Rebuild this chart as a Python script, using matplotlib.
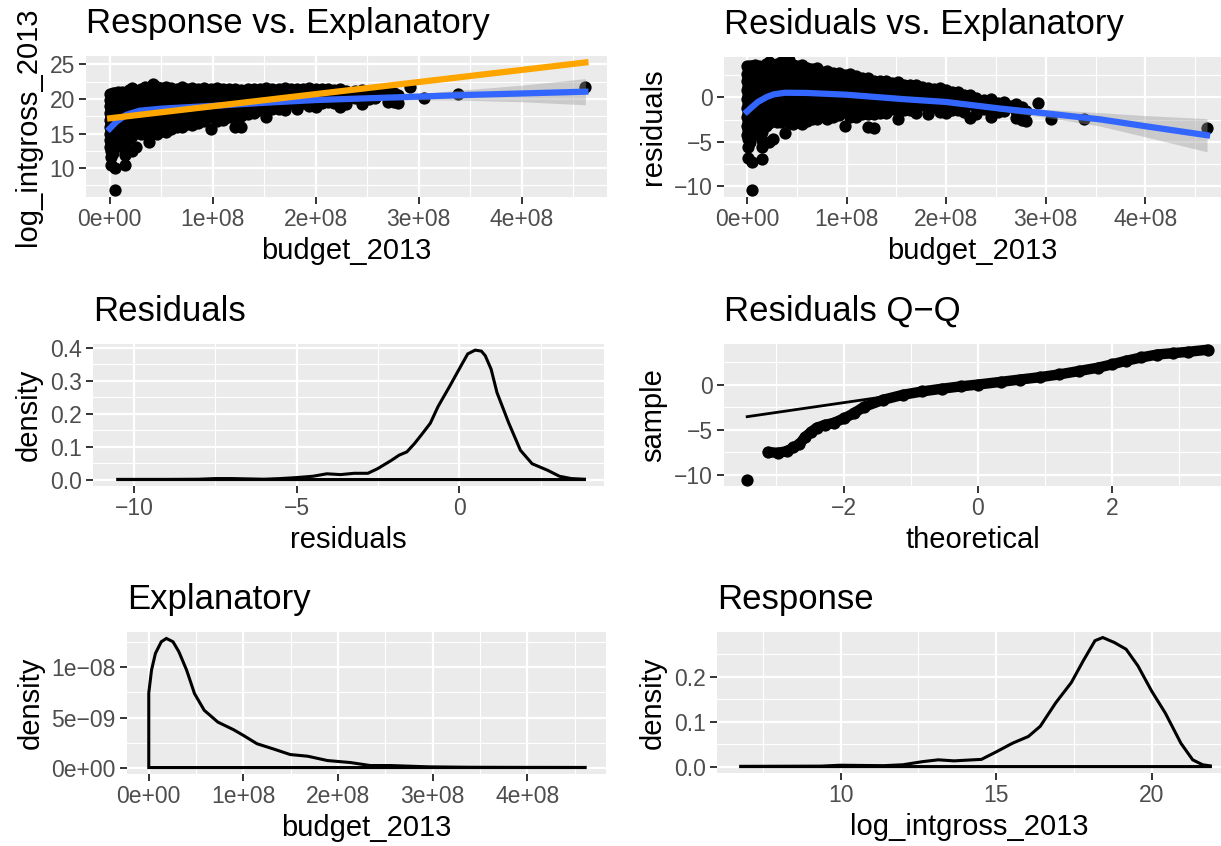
import numpy as np
import matplotlib.pyplot as plt

plt.rcParams['font.family'] = ['Liberation Sans', 'DejaVu Sans']

MINUS = '\u2212'

# scatter data: budget in millions, one list of log gross values per budget column
budget_cols = [0.5, 1.5, 3, 5, 8, 12, 15, 19, 22, 26, 30, 34, 38, 42, 46, 50, 55, 60, 65, 70,
               75, 80, 86, 92, 98, 104, 110, 116, 122, 128, 134, 140, 146, 152, 158, 164, 170,
               176, 182, 188, 194, 200, 206, 212, 218, 224, 230, 238, 245, 252, 258, 264, 270,
               276, 280, 292, 305, 338, 462]
gross_cols = [
    [20.7, 19.8, 19.0, 18.0, 17.0, 16.0, 15.0, 14.0, 13.0],
    [20.5, 19.5, 18.5, 17.5, 16.5, 15.5, 14.5, 13.5, 12.5, 11.6, 10.4],
    [20.8, 20.0, 19.2, 18.2, 17.2, 16.2, 15.2, 14.2, 13.1, 12.2],
    [20.8, 19.8, 18.8, 17.8, 16.8, 15.8, 14.8, 13.8, 10.0, 6.8],
    [21.0, 20.0, 19.0, 18.0, 17.0, 16.0, 15.0, 14.0, 13.2],
    [21.0, 20.1, 19.3, 18.3, 17.3, 16.3, 15.3, 14.3],
    [20.8, 19.8, 18.8, 17.8, 16.8, 15.8, 14.8, 13.6, 12.7, 11.9, 10.5],
    [21.3, 20.3, 19.3, 18.3, 17.3, 16.3, 15.3, 14.3],
    [21.6, 20.6, 19.6, 18.6, 17.6, 16.6, 15.6, 14.7, 12.5],
    [21.2, 20.2, 19.2, 18.2, 17.2, 16.2, 15.2, 13.0],
    [21.5, 20.5, 19.5, 18.5, 17.5, 16.5, 15.5, 14.9],
    [21.8, 20.8, 19.8, 18.8, 17.8, 16.8, 15.8, 15.0],
    [21.6, 20.6, 19.6, 18.6, 17.6, 16.6, 15.6, 13.8],
    [22.2, 21.2, 20.2, 19.2, 18.2, 17.2, 16.2, 15.1],
    [21.7, 20.7, 19.7, 18.7, 17.7, 16.7, 15.7, 15.0],
    [21.6, 20.6, 19.6, 18.6, 17.6, 16.6, 15.4],
    [21.8, 20.8, 19.8, 18.8, 17.8, 16.8, 15.8, 15.2],
    [21.6, 20.6, 19.6, 18.6, 17.6, 16.6, 15.6],
    [21.5, 20.5, 19.5, 18.5, 17.5, 16.5, 15.9],
    [21.7, 20.7, 19.7, 18.7, 17.7, 16.7, 16.0],
    [21.4, 20.4, 19.4, 18.4, 17.4, 16.4],
    [21.6, 20.6, 19.6, 18.6, 17.6, 16.6, 16.2],
    [21.5, 20.5, 19.5, 18.5, 17.5, 16.5],
    [21.6, 20.6, 19.6, 18.6, 17.6, 16.8],
    [21.4, 20.4, 19.4, 18.4, 17.4, 15.7],
    [21.6, 20.6, 19.6, 18.6, 17.6, 16.8],
    [21.5, 20.5, 19.5, 18.5, 17.5, 16.9],
    [21.4, 20.4, 19.4, 18.4, 17.4],
    [21.5, 20.5, 19.5, 18.5, 17.5, 16.0],
    [21.3, 20.3, 19.3, 18.3, 17.6, 16.0],
    [21.4, 20.4, 19.4, 18.4, 17.8],
    [21.5, 20.5, 19.5, 18.5, 17.9],
    [21.4, 20.4, 19.4, 18.4],
    [21.6, 20.6, 19.6, 18.6, 17.4],
    [21.4, 20.4, 19.4, 18.5],
    [21.5, 20.5, 19.5, 18.6],
    [21.6, 20.6, 19.6, 18.4],
    [21.4, 20.4, 19.4],
    [21.5, 20.5, 19.5, 18.5],
    [21.4, 20.4, 19.4],
    [21.6, 20.6, 19.6, 19.0],
    [21.5, 20.5, 19.5, 18.9],
    [21.4, 20.4, 19.4],
    [21.5, 20.5, 19.5],
    [21.3, 20.3, 19.4],
    [21.4, 20.4, 18.8],
    [21.2, 20.2, 19.3],
    [21.1, 20.1],
    [21.3, 20.3, 19.3],
    [21.0, 20.0],
    [21.2, 20.2],
    [20.9],
    [21.2, 20.4, 19.6],
    [20.9, 19.5],
    [20.6, 19.4],
    [21.7],
    [20.1],
    [20.7],
    [21.8],
]

# linear fit
lm_intercept = 17.2
lm_slope = 1.752e-8

# loess smooths (budget in millions)
smooth1_budget = [0, 6.5, 16, 29, 50, 100, 150, 200, 250, 300, 350, 400, 462]
smooth1_fit = [15.7, 16.7, 17.7, 18.3, 18.6, 19.0, 19.45, 19.85, 20.1, 20.35, 20.6, 20.8, 21.06]
smooth1_se = [0.3, 0.2, 0.12, 0.08, 0.07, 0.07, 0.08, 0.12, 0.22, 0.45, 0.8, 1.2, 1.9]

smooth2_budget = [0, 5, 11, 20, 27, 38, 60, 100, 156, 200, 255, 300, 354, 400, 462]
smooth2_fit = [-1.6, -1.1, -0.52, 0.05, 0.34, 0.52, 0.5, 0.3, -0.19, -0.52, -1.27, -1.8, -2.47, -3.25, -4.27]
smooth2_se = [0.4, 0.3, 0.2, 0.15, 0.12, 0.1, 0.1, 0.1, 0.12, 0.15, 0.3, 0.45, 0.75, 1.2, 1.87]

# residual density
resid_density_x = [-10.5, -9.0, -8.0, -7.5, -7.0, -6.5, -6.0, -5.5, -5.0, -4.5, -4.07, -3.65, -3.23,
                   -2.81, -2.51, -2.09, -1.85, -1.61, -1.37, -1.13, -0.89, -0.65, -0.29, -0.1, 0.08,
                   0.26, 0.49, 0.68, 0.8, 0.98, 1.16, 1.52, 1.88, 2.24, 2.72, 3.08, 3.44, 3.85]
resid_density_y = [0.0005, 0.0005, 0.001, 0.003, 0.003, 0.002, 0.001, 0.003, 0.006, 0.01, 0.0175,
                   0.015, 0.019, 0.019, 0.033, 0.058, 0.074, 0.084, 0.11, 0.14, 0.171, 0.222, 0.284,
                   0.318, 0.35, 0.3815, 0.393, 0.39, 0.376, 0.335, 0.264, 0.172, 0.089, 0.048, 0.028,
                   0.01, 0.003, 0.001]

# residual Q-Q
qq_theoretical = [-3.435, -3.127, -2.98, -2.836, -2.75, -2.66, -2.574, -2.486, -2.4, -2.28, -2.14,
                  -1.99, -1.846, -1.7, -1.41, -1.118, -0.827, -0.536, -0.245, 0.0, 0.338, 0.629,
                  0.92, 1.21, 1.5, 1.79, 2.0, 2.2, 2.43, 2.67, 2.9, 3.13, 3.42]
qq_sample = [-10.55, -7.45, -7.55, -7.35, -6.95, -6.6, -5.8, -5.25, -4.75, -4.45, -4.2, -3.7,
             -3.15, -2.45, -1.65, -1.1, -0.72, -0.42, -0.15, 0.04, 0.34, 0.6, 0.86, 1.17, 1.54,
             1.92, 2.29, 2.67, 3.05, 3.38, 3.53, 3.68, 3.91]
qq_line_intercept = 0.2
qq_line_slope = 1.085

# explanatory density (budget in millions, density in 1e-8)
budget_density_x = [0, 2.9, 7, 13.2, 18.6, 25.6, 31.8, 40, 48.3, 58.6, 73, 89.6, 100, 114.3, 130.9,
                    149.4, 168, 188.7, 213, 234, 255, 296, 337, 379, 461]
budget_density_y = [0.745, 0.973, 1.14, 1.257, 1.29, 1.257, 1.157, 0.973, 0.739, 0.572, 0.454,
                    0.378, 0.321, 0.238, 0.188, 0.13, 0.113, 0.07, 0.05, 0.02, 0.02, 0.007, 0.003,
                    0.002, 0.001]

# response density
gross_density_x = [6.79, 9.37, 10.0, 11.38, 12.0, 12.64, 13.14, 13.65, 14.53, 15.03, 15.53, 16.04,
                   16.42, 16.92, 17.42, 17.8, 18.18, 18.43, 18.8, 19.18, 19.56, 20.0, 20.44, 20.94,
                   21.32, 21.64, 21.89]
gross_density_y = [0.0005, 0.001, 0.003, 0.002, 0.004, 0.011, 0.015, 0.0127, 0.016, 0.0336, 0.052,
                   0.067, 0.0896, 0.142, 0.187, 0.235, 0.28, 0.287, 0.276, 0.261, 0.224, 0.168,
                   0.119, 0.052, 0.015, 0.004, 0.0015]

budget_ticks = [0, 1e8, 2e8, 3e8, 4e8]
budget_tick_labels = ['0e+00', '1e+08', '2e+08', '3e+08', '4e+08']

budget_2013 = np.concatenate([[b] * len(g) for b, g in zip(budget_cols, gross_cols)]) * 1e6
log_intgross_2013 = np.concatenate(gross_cols)
residuals = log_intgross_2013 - (lm_intercept + lm_slope * budget_2013)

W, H = 1221, 846
fig = plt.figure(figsize=(W / 100, H / 100), dpi=100)


def add_panel(l, r, t, b):
    return fig.add_axes([l / W, 1 - b / H, (r - l) / W, (b - t) / H])


def style_panel(ax, xlim, ylim, xmajor, xminor, ymajor, yminor, title, xlab, ylab,
                xlabels=None, ylabels=None):
    ax.set_facecolor('#EBEBEB')
    for s in ax.spines.values():
        s.set_visible(False)
    ax.set_xlim(xlim)
    ax.set_ylim(ylim)
    ax.set_xticks(xmajor)
    ax.set_xticks(xminor, minor=True)
    ax.set_yticks(ymajor)
    ax.set_yticks(yminor, minor=True)
    if xlabels is None:
        xlabels = [f'{v:g}'.replace('-', MINUS) for v in xmajor]
    if ylabels is None:
        ylabels = [f'{v:g}'.replace('-', MINUS) for v in ymajor]
    ax.set_xticklabels(xlabels)
    ax.set_yticklabels(ylabels)
    ax.grid(which='major', color='white', lw=1.6)
    ax.grid(which='minor', color='white', lw=0.8)
    ax.set_axisbelow(True)
    ax.tick_params(which='major', length=5, width=1.4, color='#333333',
                   labelcolor='#4D4D4D', labelsize=16.5, pad=3)
    ax.tick_params(which='minor', length=0)
    ax.set_title(title, loc='left', fontsize=25, pad=16.5)
    ax.set_xlabel(xlab, fontsize=21, labelpad=4)
    ax.set_ylabel(ylab, fontsize=21, labelpad=5)


def density_outline(ax, x, y):
    xs = np.concatenate([[x[0]], x, [x[-1]]])
    ys = np.concatenate([[0], y, [0]])
    ax.fill(xs, ys, facecolor='none', edgecolor='black', lw=2.2, closed=True)


budget_minor = [0.5e8, 1.5e8, 2.5e8, 3.5e8, 4.5e8]
dot = 78

# Response vs. Explanatory
ax1 = add_panel(86, 607, 56, 197)
style_panel(ax1, (-0.23e8, 4.83e8), (5.8, 26.23), budget_ticks, budget_minor,
            [10, 15, 20, 25], [7.5, 12.5, 17.5, 22.5],
            'Response vs. Explanatory', 'budget_2013', 'log_intgross_2013',
            xlabels=budget_tick_labels)
ax1.scatter(budget_2013, log_intgross_2013, s=dot, color='black', lw=0, zorder=2)
s1x = np.array(smooth1_budget) * 1e6
s1y = np.array(smooth1_fit)
s1e = np.array(smooth1_se)
ax1.fill_between(s1x, s1y - s1e, s1y + s1e, color='#999999', alpha=0.4, lw=0, zorder=3)
ax1.plot(s1x, s1y, color='#3366FF', lw=4.5, zorder=4)
lx = np.array([budget_2013.min(), budget_2013.max()])
ax1.plot(lx, lm_intercept + lm_slope * lx, color='orange', lw=4.5, zorder=5)

# Residuals vs. Explanatory
ax2 = add_panel(724, 1221, 57, 197)
style_panel(ax2, (-0.23e8, 4.76e8), (-11.23, 4.55), budget_ticks, budget_minor,
            [-10, -5, 0], [-7.5, -2.5, 2.5],
            'Residuals vs. Explanatory', 'budget_2013', 'residuals',
            xlabels=budget_tick_labels)
ax2.scatter(budget_2013, residuals, s=dot, color='black', lw=0, zorder=2)
s2x = np.array(smooth2_budget) * 1e6
s2y = np.array(smooth2_fit)
s2e = np.array(smooth2_se)
ax2.fill_between(s2x, s2y - s2e, s2y + s2e, color='#999999', alpha=0.4, lw=0, zorder=3)
ax2.plot(s2x, s2y, color='#3366FF', lw=4.5, zorder=4)

# Residuals density
ax3 = add_panel(93, 604, 344, 486)
style_panel(ax3, (-11.26, 4.45), (-0.0196, 0.4116), [-10, -5, 0], [-7.5, -2.5, 2.5],
            [0, 0.1, 0.2, 0.3, 0.4], [0.05, 0.15, 0.25, 0.35],
            'Residuals', 'residuals', 'density',
            ylabels=['0.0', '0.1', '0.2', '0.3', '0.4'])
density_outline(ax3, resid_density_x, resid_density_y)

# Residuals Q-Q
ax4 = add_panel(724, 1221, 344, 486)
style_panel(ax4, (-3.78, 3.62), (-11.23, 4.55), [-2, 0, 2], [-3, -1, 1, 3],
            [-10, -5, 0], [-7.5, -2.5, 2.5],
            'Residuals Q\u2212Q', 'theoretical', 'sample')
qt = np.array(qq_theoretical)
qs = np.array(qq_sample)
ax4.plot(qt[1:], qs[1:], color='black', lw=7.5, solid_capstyle='round',
         solid_joinstyle='round', zorder=2)
ax4.scatter(qt, qs, s=dot, color='black', lw=0, zorder=3)
ax4.plot([qt.min(), qt.max()], qq_line_intercept + qq_line_slope * np.array([qt.min(), qt.max()]),
         color='black', lw=2, zorder=4)

# Explanatory density
ax5 = add_panel(127, 606, 632, 774)
style_panel(ax5, (-0.23e8, 4.83e8), (-0.0645e-8, 1.3545e-8), budget_ticks, budget_minor,
            [0, 0.5e-8, 1e-8], [0.25e-8, 0.75e-8, 1.25e-8],
            'Explanatory', 'budget_2013', 'density',
            xlabels=budget_tick_labels,
            ylabels=['0e+00', '5e' + MINUS + '09', '1e' + MINUS + '08'])
density_outline(ax5, np.array(budget_density_x) * 1e6, np.array(budget_density_y) * 1e-8)

# Response density
ax6 = add_panel(717, 1221, 632, 773)
style_panel(ax6, (6.03, 22.23), (-0.0143, 0.2993), [10, 15, 20], [7.5, 12.5, 17.5],
            [0, 0.1, 0.2], [0.05, 0.15, 0.25],
            'Response', 'log_intgross_2013', 'density',
            ylabels=['0.0', '0.1', '0.2'])
density_outline(ax6, gross_density_x, gross_density_y)

fig.savefig('out.png', dpi=100)
